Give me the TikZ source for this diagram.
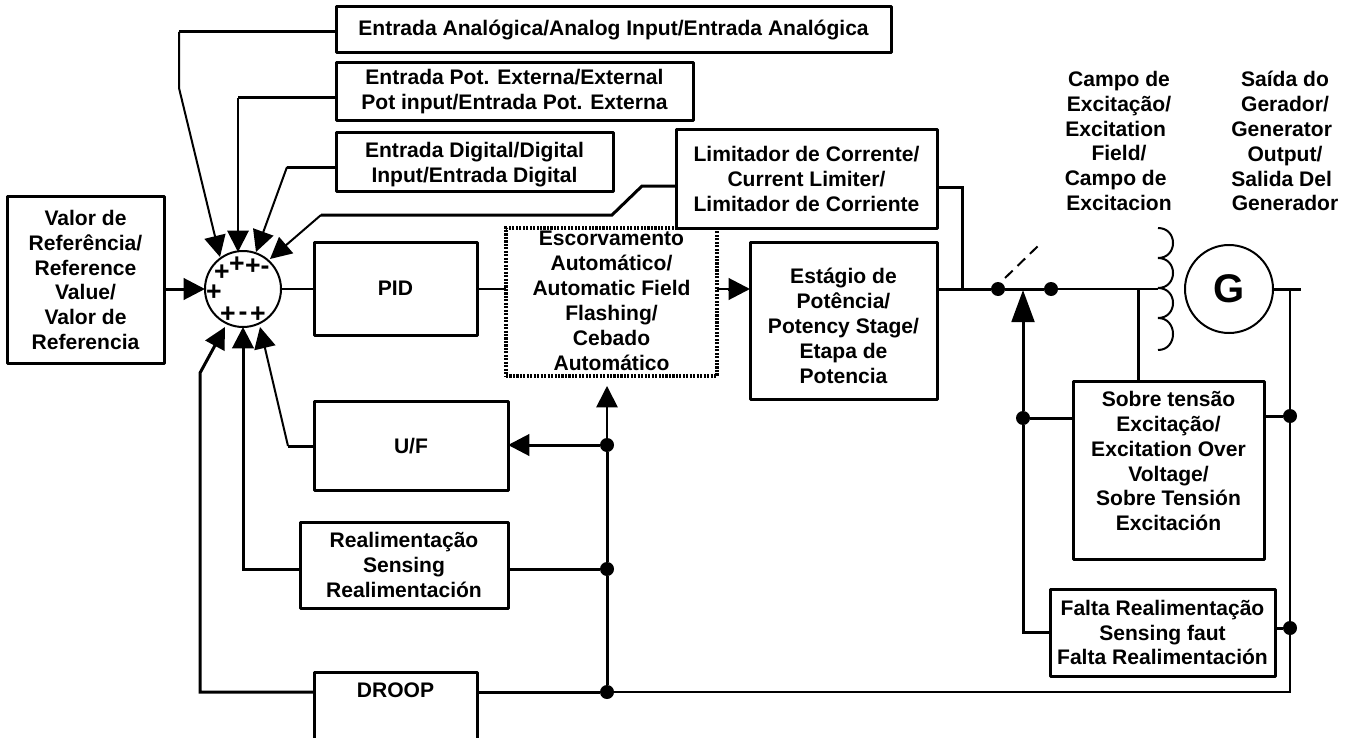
\documentclass[tikz,border=0pt]{standalone}
\usepackage{fontspec}
\setmainfont{Liberation Sans}
\usetikzlibrary{arrows.meta}
\tikzset{
  x=0.75pt,y=-0.75pt,
  lab/.style={font=\bfseries\fontsize{15.8}{18.7}\selectfont,align=center,inner sep=0pt,text=black},
  box/.style={lab,draw=black,line width=2.25pt,line join=round,fill=white,outer sep=0pt},
  dim/.style 2 args={minimum width=#1*0.75pt,minimum height=#2*0.75pt},
  dotbox/.style={lab,draw=black,line width=2.4pt,dash pattern=on 1.6pt off 1pt,outer sep=0pt},
  wire/.style={draw=black,line width=2.25pt,line join=miter},
  mid wire/.style={draw=black,line width=1.5pt,line join=miter},
  thin wire/.style={draw=black,line width=1.3pt},
  arr/.style={-{Triangle[length=16pt,width=16pt]}},
  longarr/.style={-{Triangle[length=24pt,width=17pt]}},
  dotn/.style={circle,fill=black,inner sep=0pt,minimum size=10.5pt,outer sep=0pt},
  ring/.style={circle,draw=black,line width=1.5pt,inner sep=0pt,outer sep=0pt,fill=white},
  sign/.style={font=\bfseries\fontsize{20}{20}\selectfont,inner sep=0pt},
}
\begin{document}
\begin{tikzpicture}
\useasboundingbox (0,0) rectangle (1355,738);
\clip (0,0) rectangle (1355,738);
% boxes
\node[box,dim={555}{46}] (analog) at (613.5,30) {Entrada Analógica/Analog Input/Entrada Analógica};
\node[box,dim={357}{58}] (pot) at (514.5,92) {Entrada Pot. Externa/External\\Pot input/Entrada Pot. Externa};
\node[box,dim={277}{58}] (digital) at (474.5,162) {};
\node[lab] (digitaltext) at (474.5,165) {Entrada Digital/Digital\\Input/Entrada Digital};
\node[dotbox,dim={211}{148}] (flash) at (611.5,302) {};
\node[lab,anchor=center] (flashtext) at (611.5,301) {Escorvamento\\Automático/\\Automatic Field\\Flashing/\\Cebado\\Automático};
\node[box,dim={261}{98}] (limit) at (806.5,179) {Limitador de Corrente/\\Current Limiter/\\Limitador de Corriente};
\node[box,dim={157}{167}] (valor) at (85.5,280) {Valor de\\Referência/\\Reference\\Value/\\Valor de\\Referencia};
\node[box,dim={163}{93}] (pid) at (395.5,288.5) {PID};
\node[box,dim={187}{157}] (stage) at (843.5,321) {};
\node[lab] (stagetext) at (843.5,326) {Estágio de\\Potência/\\Potency Stage/\\Etapa de\\Potencia};
\node[box,dim={194}{89}] (uf) at (411,446) {U/F};
\node[box,dim={208}{86}] (sens) at (404,565) {Realimentação\\Sensing\\Realimentación};
\node[box,dim={163}{90}] (droop) at (395.5,717) {};
\node[lab] (drooptext) at (395.5,690) {DROOP};
\node[box,dim={191}{178}] (over) at (1168.5,470) {};
\node[lab] (overtext) at (1168.5,461) {Sobre tensão\\Excitação/\\Excitation Over\\Voltage/\\Sobre Tensión\\Excitación};
\node[box,dim={225}{87}] (fault) at (1162.5,632.5) {Falta Realimentação\\Sensing faut\\Falta Realimentación};
\node[lab] (campo) at (1119,141) {Campo de\\Excitação/\\Excitation\kern5pt\\Field/\\Campo de\kern5pt\\Excitacion};
\node[lab] (saida) at (1285,141) {Saída do\\Gerador/\\Generator\kern5pt\\Output/\\Salida Del\kern5pt\\Generador};
% summing junction
\node[ring,minimum size=76*0.75pt] (sum) at (243,289) {};
\node[sign] (s1) at (222,273) {+};
\node[sign] (s2) at (237,265) {+};
\node[sign] (s3) at (253,267) {+};
\node[sign] (s4) at (265,270) {-};
\node[sign] (s5) at (214,293) {+};
\node[sign] (s6) at (228,315) {+};
\node[sign] (s7) at (243,316) {-};
\node[sign] (s8) at (258,315) {+};
% generator
\node[ring,minimum size=88*0.75pt] (gen) at (1229,289) {};
\node[font=\bfseries\fontsize{30}{30}\selectfont,inner sep=0pt] (gtext) at (1229,289) {G};
% junctions
\node[dotn] (swa) at (998,289) {};
\node[dotn] (swb) at (1051,289) {};
\node[dotn] (j1) at (1023,418) {};
\node[dotn] (j2) at (1290,416) {};
\node[dotn] (j3) at (1290,628) {};
\node[dotn] (j4) at (607,445) {};
\node[dotn] (j5) at (607,569) {};
\node[dotn] (j6) at (607,692) {};
% free points
\coordinate (tA) at (220,257);
\coordinate (tB) at (238,252);
\coordinate (tC) at (256,252);
\coordinate (tD) at (270,259);
\coordinate (tE) at (205,289);
\coordinate (tF) at (225,327);
\coordinate (tG) at (243,327);
\coordinate (tH) at (260,327);
\coordinate (bendA) at (179,32);
\coordinate (bendB) at (238,98);
\coordinate (bendC) at (287,167);
\coordinate (bendD) at (321,215);
\coordinate (bendH) at (288,446);
\coordinate (bus) at (962,289);
\coordinate (tap) at (1023,290);
\coordinate (coilT) at (1158,228);
\coordinate (coilM) at (1158,289);
\coordinate (genR) at (1301,289);
\coordinate (genT) at (1290,289);
\coordinate (flashTip) at (607,386);
% input arrows
\draw[wire] (analog.west |- bendA) -- (bendA);
\draw[mid wire,arr] (bendA) -- (179,88) -- (tA);
\draw[wire] (pot.west |- bendB) -- (bendB);
\draw[mid wire,arr] (bendB) -- (tB);
\draw[wire] (digital.west |- bendC) -- (bendC);
\draw[mid wire,arr] (bendC) -- (tC);
\draw[wire] (limit.west |- 0,186) -- (642,186) -- (612,215) -- (bendD);
\draw[mid wire,arr] (bendD) -- (tD);
\draw[wire,arr] (valor.east |- tE) -- (tE);
\draw[wire,arr] (droop.west |- 0,692) -- (200,692) -- (200,373) -- (tF);
\draw[wire,arr] (sens.west |- 0,569) -- (243,569) -- (tG);
\draw[wire] (uf.west) -- (bendH);
\draw[mid wire,arr] (bendH) -- (tH);
% main path
\draw[thin wire] (sum.east) -- (pid.west |- sum.east);
\draw[thin wire] (pid.east |- sum.east) -- (flash.west |- sum.east);
\draw[thin wire] (flash.east |- sum.east) -- (728,289);
\draw[wire,arr] (728,289) -- (stage.west |- sum.east);
\draw[wire] (stage.east |- sum.east) -- (swa);
\draw[wire] (limit.east |- 0,187) -- (962,187) -- (bus);
\draw[wire] (swa) -- (swb);
\draw[thin wire] (swb) -- (coilM);
\draw[draw=black,dash pattern=on 8pt off 5pt,line width=1.5pt] (1005,278) -- (1038,246);
% coil
\draw[draw=black,line width=1.5pt] (coilT)
  .. controls (1178,228) and (1178,258) .. (1158,258)
  .. controls (1178,258) and (1178,288) .. (1158,288)
  .. controls (1178,288) and (1178,318) .. (1158,318)
  .. controls (1178,318) and (1178,350) .. (1158,350);
% generator output
\draw[wire] (gen.east) -- (genR);
\draw[thin wire] (genT) -- (j2) -- (j3) -- (1290,692) -- (j6);
% feedback into switch
\draw[wire,longarr] (j1) -- (tap);
\draw[wire] (j1) -- (1023,632) -- (fault.west |- 0,632);
\draw[wire] (j1) -- (over.west |- j1);
\draw[wire] (1138,289) -- (over.north -| 1138,0);
\draw[wire] (over.east |- j2) -- (j2);
\draw[wire] (fault.east |- j3) -- (j3);
% left bus
\draw[wire] (j6) -- (j5) -- (j4);
\draw[thin wire,arr] (j4) -- (flashTip);
\draw[wire] (droop.east |- j6) -- (j6);
\draw[wire] (sens.east |- j5) -- (j5);
\draw[wire,arr] (j4) -- (uf.east |- j4);
\end{tikzpicture}
\end{document}
